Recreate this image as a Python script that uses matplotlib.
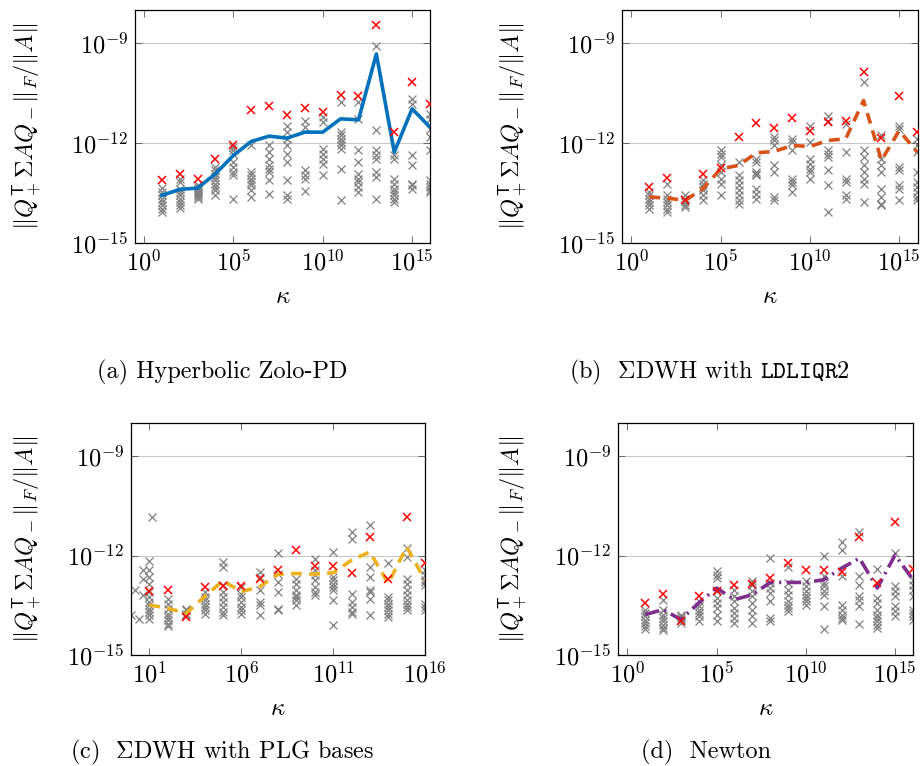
import numpy as np
import matplotlib
matplotlib.use("Agg")
import matplotlib.pyplot as plt
import matplotlib.ticker as mticker

plt.rcParams['mathtext.fontset'] = 'cm'
plt.rcParams['font.family'] = 'cmr10'
plt.rcParams['axes.unicode_minus'] = False
plt.rcParams['axes.formatter.use_mathtext'] = True

# kappa exponents of the 16 test groups
kappa_exp = np.arange(1, 17)

# ---- (a) Hyperbolic Zolo-PD : log10 of residuals ----
a_grey = [
    [-13.35, -13.47, -13.57, -13.67, -13.77, -13.87, -13.97, -14.07],
    [-13.07, -13.17, -13.37, -13.47, -13.57, -13.67, -13.77, -13.87, -13.95],
    [-13.27, -13.32, -13.37, -13.42, -13.47, -13.52, -13.57, -13.62, -13.67],
    [-12.72, -12.82, -12.92, -13.02, -13.12, -13.22, -13.32, -13.42, -13.57],
    [-12.12, -12.22, -12.32, -12.57, -12.72, -12.87, -12.97, -13.67],
    [-12.07, -12.87, -12.97, -13.07, -13.17, -13.27, -13.42, -13.62],
    [-12.07, -12.27, -12.47, -12.67, -12.77, -12.87, -13.12, -13.52],
    [-11.47, -11.67, -11.87, -12.07, -12.32, -12.57, -13.12, -13.57, -13.67],
    [-11.32, -11.52, -12.82, -12.97, -13.07, -13.45],
    [-11.22, -11.37, -12.17, -12.32, -12.47, -12.62, -12.97],
    [-10.77, -11.67, -11.77, -11.87, -11.97, -12.07, -12.17, -12.77, -13.72],
    [-10.77, -11.27, -12.22, -12.57, -12.92, -13.07, -13.17, -13.32, -13.47],
    [-9.07, -11.62, -12.22, -12.37, -12.47, -12.87, -13.02, -13.67],
    [-12.37, -12.47, -13.07, -13.22, -13.37, -13.47, -13.57, -13.67, -13.77],
    [-10.67, -10.82, -12.37, -12.67, -13.22, -13.27, -13.37],
    [-11.12, -11.27, -11.57, -11.82, -12.22, -13.12, -13.22, -13.32, -13.42, -13.47],
]
a_red = [-13.12, -12.92, -13.07, -12.49, -12.05, -11.0, -10.87, -11.14,
         -10.95, -11.05, -10.54, -10.59, -8.45, -11.67, -10.17, -10.82]
a_line = [-13.57, -13.39, -13.35, -12.92, -12.37, -11.95, -11.79, -11.85,
          -11.67, -11.67, -11.27, -11.3, -9.32, -12.27, -10.97, -11.52]

# ---- (b) SigmaDWH with LDLIQR2 ----
b_grey = [
    [-13.47, -13.57, -13.67, -13.77, -13.87, -13.97],
    [-13.22, -13.57, -13.67, -13.77, -13.87, -13.97, -14.07],
    [-13.57, -13.67, -13.77, -13.87, -13.92],
    [-13.12, -13.22, -13.32, -13.42, -13.57, -13.72],
    [-12.22, -12.32, -12.42, -12.67, -12.87, -13.07, -13.22, -13.57],
    [-12.57, -12.97, -13.12, -13.27, -13.42, -13.57, -13.72, -13.82],
    [-12.47, -12.57, -12.87, -12.92, -12.97, -13.37, -13.52, -13.67],
    [-11.82, -11.92, -12.07, -12.67, -12.87, -13.62, -13.72],
    [-11.87, -11.97, -12.22, -13.07, -13.17, -13.27, -13.47],
    [-11.47, -11.97, -12.47, -12.62, -12.77, -12.87, -13.07],
    [-11.17, -11.32, -12.22, -12.32, -12.42, -12.82, -13.27, -14.07],
    [-11.42, -12.27, -13.07, -13.17, -13.57, -13.67],
    [-10.15, -12.22, -12.42, -12.67, -12.87, -13.07, -13.22, -13.77],
    [-11.77, -12.47, -12.67, -12.87, -13.37, -13.62, -13.82, -13.87],
    [-11.47, -11.57, -12.72, -12.82, -13.27, -13.37, -13.72],
    [-11.87, -12.07, -12.27, -12.87, -13.17, -13.32, -13.47, -13.62, -13.72],
]
b_red = [-13.32, -13.04, -13.72, -12.92, -12.75, -11.82, -11.39, -11.55,
         -11.25, -11.65, -11.37, -11.34, -9.87, -11.85, -10.59, -11.67]
b_line = [-13.62, -13.65, -13.72, -13.37, -12.77, -12.67, -12.29, -12.25,
          -12.07, -12.1, -11.92, -11.87, -10.72, -12.52, -11.62, -12.27]

# ---- (c) SigmaDWH with PLG bases ----
c_grey = [
    [-12.15, -12.45, -12.65, -12.85, -13.1, -13.25, -13.4, -13.5, -13.6, -13.7, -13.8, -13.9],
    [-13.3, -13.45, -13.6, -13.75, -13.85, -13.95, -14.05, -14.13],
    [-13.6, -13.65, -13.75, -13.8],
    [-13.1, -13.25, -13.35, -13.45, -13.55, -13.65, -13.75],
    [-12.2, -12.35, -12.9, -13.1, -13.25, -13.4, -13.55, -13.7, -13.8],
    [-12.95, -13.15, -13.25, -13.4, -13.55, -13.65, -13.75],
    [-12.5, -12.65, -13.05, -13.4, -13.5, -13.8],
    [-11.93, -12.55, -12.8, -13.1, -13.6, -13.65],
    [-12.7, -12.85, -13.05, -13.2, -13.25, -13.35, -13.5],
    [-12.1, -12.45, -12.6, -12.75, -12.95, -13.1, -13.2],
    [-11.9, -12.65, -12.75, -12.85, -12.95, -13.05, -13.35, -14.08],
    [-11.3, -11.5, -13.15, -13.4, -13.55, -13.7, -13.77],
    [-11.08, -12.35, -12.65, -13.05, -13.1, -13.3, -13.8],
    [-12.22, -13.25, -13.35, -13.45, -13.55, -13.65, -13.75, -13.85],
    [-11.77, -12.05, -12.7, -12.85, -13.05, -13.2, -13.35, -13.45, -13.55, -13.65],
    [-12.45, -12.6, -12.75, -12.8, -12.9, -13.45, -13.55, -13.65],
]
# points of the first group in (c) whose kappa is off the nominal value
c_extra_kexp = [0.0, 0.44, 0.2, 0.66, 0.66, 0.66, 1.15]
c_extra_val = [-13.8, -13.9, -13.05, -12.45, -12.7, -13.2, -10.85]
c_red = [-13.08, -13.05, -13.85, -12.95, -12.92, -12.93, -12.7, -12.45,
         -11.83, -12.3, -12.3, -12.52, -11.45, -12.72, -10.85, -12.23]
c_line = [-13.49, -13.59, -13.74, -13.24, -12.76, -13.09, -12.94, -12.56,
          -12.54, -12.56, -12.52, -12.14, -11.89, -12.84, -11.74, -12.74]

# ---- (d) Newton ----
d_grey = [
    [-13.63, -13.73, -13.83, -13.93, -14.03, -14.13, -14.21],
    [-13.33, -13.63, -13.78, -13.88, -13.98, -14.08, -14.18, -14.25],
    [-13.78, -13.83, -13.88, -13.93, -14.03],
    [-13.38, -13.53, -13.63, -13.73, -13.83, -13.98],
    [-12.48, -12.58, -12.68, -13.08, -13.28, -13.43, -13.58, -13.78, -13.98],
    [-13.03, -13.23, -13.38, -13.58, -13.73, -13.88, -14.03],
    [-12.78, -12.88, -13.08, -13.23, -13.43, -13.63, -13.83, -14.03],
    [-12.08, -12.83, -12.98, -13.13, -13.38, -13.88, -13.98],
    [-12.33, -12.83, -13.03, -13.18, -13.38, -13.48, -13.58, -13.68],
    [-12.78, -12.93, -13.08, -13.18, -13.28, -13.38, -13.48],
    [-12.0, -12.63, -12.83, -12.93, -13.08, -13.18, -13.53, -14.21],
    [-11.58, -11.83, -12.63, -13.48, -13.63, -13.78, -13.88, -13.93],
    [-11.28, -12.63, -12.88, -13.23, -13.33, -13.53, -14.06],
    [-12.41, -13.28, -13.43, -13.63, -13.78, -13.88, -13.98, -14.08, -14.18],
    [-11.93, -12.93, -13.08, -13.23, -13.53, -13.68, -13.83],
    [-12.73, -12.88, -13.03, -13.23, -13.63, -13.73, -13.83, -13.93],
]
d_red = [-13.43, -13.16, -13.96, -13.23, -13.08, -12.88, -12.85, -12.68,
         -12.23, -12.43, -12.45, -12.51, -11.43, -12.83, -11.0, -12.41]
d_line = [-13.78, -13.63, -13.93, -13.43, -12.98, -13.33, -13.18, -12.81,
          -12.81, -12.81, -12.73, -12.38, -12.08, -12.98, -11.98, -12.73]

captions = ['(a) Hyperbolic Zolo-PD',
            r'(b)  $\Sigma$DWH with $\mathtt{LDLIQR2}$',
            r'(c)  $\Sigma$DWH with PLG bases',
            '(d)  Newton']
ylabel = r'$\|Q_+^{\mathsf{T}}\Sigma A Q_-\|_F/\|A\|$'

fig = plt.figure(figsize=(9.22, 7.66), dpi=100)
W, H = 922, 766

panels = [
    dict(box=(135, 10, 430, 243), grey=a_grey, red=a_red, line=a_line,
         color='#0072BD', ls='-', xlim=(-0.5, 16.0), xt=[0, 5, 10, 15],
         ylx=27, cap=(222, 372)),
    dict(box=(622, 10, 918, 243), grey=b_grey, red=b_red, line=b_line,
         color='#D95319', ls=(0, (3, 2)), xlim=(-0.53, 16.05), xt=[0, 5, 10, 15],
         ylx=513, cap=(709, 372)),
    dict(box=(131, 423, 425, 655), grey=c_grey, red=c_red, line=c_line,
         color='#EDB120', ls=(0, (3, 2)), xlim=(0.0, 16.0), xt=[1, 6, 11, 16],
         ylx=27, cap=(222, 752)),
    dict(box=(618, 423, 913, 655), grey=d_grey, red=d_red, line=d_line,
         color='#7E2F8E', ls=(0, (4, 1.5, 0.6, 1.5)), xlim=(-0.52, 16.0), xt=[0, 5, 10, 15],
         ylx=513, cap=(706, 752)),
]

fmt = mticker.FuncFormatter(lambda v, p: r'$10^{%d}$' % int(round(np.log10(v))))

for i, p in enumerate(panels):
    x0, y0, x1, y1 = p['box']
    ax = fig.add_axes([x0 / W, 1 - y1 / H, (x1 - x0) / W, (y1 - y0) / H])
    for k, vals in zip(kappa_exp, p['grey']):
        ax.plot(np.full(len(vals), 10.0 ** k), 10.0 ** np.array(vals), 'x',
                color='#808080', ms=5.5, mew=0.9, zorder=2)
    if i == 2:
        ax.plot(10.0 ** np.array(c_extra_kexp), 10.0 ** np.array(c_extra_val), 'x',
                color='#808080', ms=5.5, mew=0.9, zorder=2)
    ax.plot(10.0 ** kappa_exp, 10.0 ** np.array(p['line']), color=p['color'],
            ls=p['ls'], lw=2.6, zorder=3)
    ax.plot(10.0 ** kappa_exp, 10.0 ** np.array(p['red']), 'x', color='red',
            ms=6, mew=1.1, zorder=4)
    ax.set_xscale('log')
    ax.set_yscale('log')
    ax.set_xlim(10.0 ** p['xlim'][0], 10.0 ** p['xlim'][1])
    ax.set_ylim(1e-15, 1e-8)
    ax.set_xticks([10.0 ** t for t in p['xt']])
    ax.set_yticks([1e-15, 1e-12, 1e-9])
    ax.xaxis.set_minor_locator(mticker.NullLocator())
    ax.yaxis.set_minor_locator(mticker.NullLocator())
    ax.xaxis.set_major_formatter(fmt)
    ax.yaxis.set_major_formatter(fmt)
    ax.tick_params(direction='in', top=True, right=True, length=5, width=0.6,
                   color='#555555', labelsize=17.5, pad=5)
    ax.grid(True, axis='y', color='#c8c8c8', lw=0.8)
    ax.set_axisbelow(True)
    for s in ax.spines.values():
        s.set_linewidth(0.9)
    fig.text((x0 + x1) / 2 / W, 1 - (y1 + 54) / H, r'$\kappa$', ha='center',
             va='center', fontsize=18)
    fig.text(p['ylx'] / W, 1 - (y0 + y1) / 2 / H, ylabel, rotation=90,
             ha='center', va='center', fontsize=17.5)
    fig.text(p['cap'][0] / W, 1 - p['cap'][1] / H, captions[i], ha='center',
             va='center', fontsize=17.5)

fig.savefig('out.png', dpi=100)
